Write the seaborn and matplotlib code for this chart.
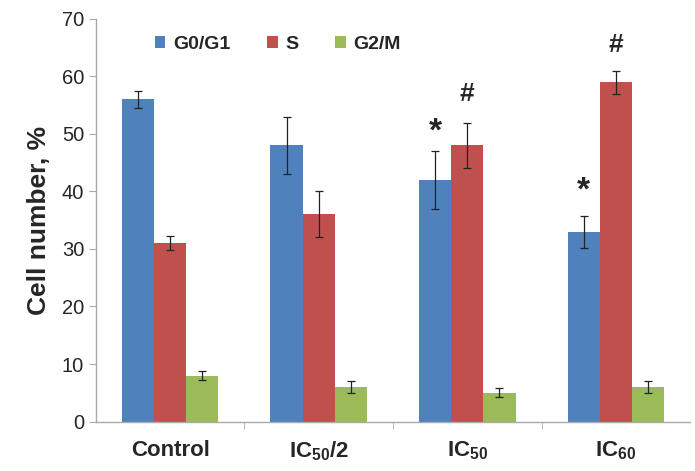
import numpy as np
import pandas as pd
import matplotlib
matplotlib.use("Agg")
import matplotlib.pyplot as plt
import seaborn as sns

# ==========================================
# Data
# ==========================================
groups = ["Control", "IC$_{\\mathbf{50}}$/2", "IC$_{\\mathbf{50}}$", "IC$_{\\mathbf{60}}$"]
phases = ["G0/G1", "S", "G2/M"]
g0g1 = [56, 48, 42, 33]
s_phase = [31, 36, 48, 59]
g2m = [8, 6, 5, 6]
g0g1_err = [1.5, 5.0, 5.0, 2.8]
s_err = [1.2, 4.0, 3.9, 2.0]
g2m_err = [0.8, 1.0, 0.8, 1.0]
# significance marks: (group index, phase index, symbol, height)
marks = [(2, 0, "*", 47.6), (2, 1, "#", 54.8), (3, 0, "*", 37.4), (3, 1, "#", 63.3)]

colors = ["#4F81BD", "#C0504D", "#9BBB59"]

values = [g0g1, s_phase, g2m]
errors = [g0g1_err, s_err, g2m_err]
df = pd.DataFrame({
    "group": [g for _ in phases for g in groups],
    "phase": [p for p in phases for _ in groups],
    "value": [v for vals in values for v in vals],
})

# ==========================================
# Plot
# ==========================================
sns.set_style("white")
plt.rcParams["font.family"] = ["Liberation Sans", "DejaVu Sans"]
plt.rcParams["mathtext.fontset"] = "custom"
plt.rcParams["mathtext.rm"] = "Liberation Sans"
plt.rcParams["mathtext.bf"] = "Liberation Sans:bold"

fig = plt.figure(figsize=(6.95, 4.71), dpi=100)
ax = fig.add_axes([0.138, 0.105, 0.855, 0.855])

sns.barplot(data=df, x="group", y="value", hue="phase", order=groups,
            hue_order=phases, palette=colors, width=0.65, saturation=1,
            errorbar=None, ax=ax, edgecolor="none")

bar_conts = list(ax.containers[:len(phases)])

# error bars from bar positions
for i, cont in enumerate(bar_conts):
    for j, bar in enumerate(cont):
        xc = bar.get_x() + bar.get_width() / 2
        ax.errorbar(xc, values[i][j], yerr=errors[i][j], fmt="none",
                    ecolor="#222222", elinewidth=0.9, capsize=3, capthick=0.9)

for gi, pi, sym, h in marks:
    bar = bar_conts[pi][gi]
    xc = bar.get_x() + bar.get_width() / 2
    ax.text(xc, h, sym, ha="center", va="bottom",
            fontsize=24 if sym == "*" else 19, fontweight="bold")

ax.set_ylim(0, 70)
ax.set_xlim(-0.5, 3.5)
ax.set_yticks(range(0, 71, 10))
ax.set_ylabel("Cell number, %", fontsize=19, fontweight="bold", labelpad=8)
ax.set_xlabel("")
ax.tick_params(axis="y", labelsize=14.5, length=5, color="#aaaaaa", direction="out", left=True)
ax.set_xticks(range(len(groups)))
ax.set_xticklabels(groups, fontsize=16, fontweight="bold")
ax.tick_params(axis="x", length=0, pad=13)
ax.set_xticks([0.5, 1.5, 2.5], minor=True)
ax.tick_params(axis="x", which="minor", length=5, color="#aaaaaa", direction="out", bottom=True)

sns.despine(ax=ax)
for side in ["left", "bottom"]:
    ax.spines[side].set_color("#aaaaaa")
    ax.spines[side].set_linewidth(1)

leg = ax.legend(loc="center", bbox_to_anchor=(0.306, 0.937), ncol=3, frameon=False,
                handlelength=0.55, handleheight=0.55, handletextpad=0.4,
                columnspacing=1.88, prop={"weight": "bold", "size": 14})

fig.savefig("out.png", dpi=100)
